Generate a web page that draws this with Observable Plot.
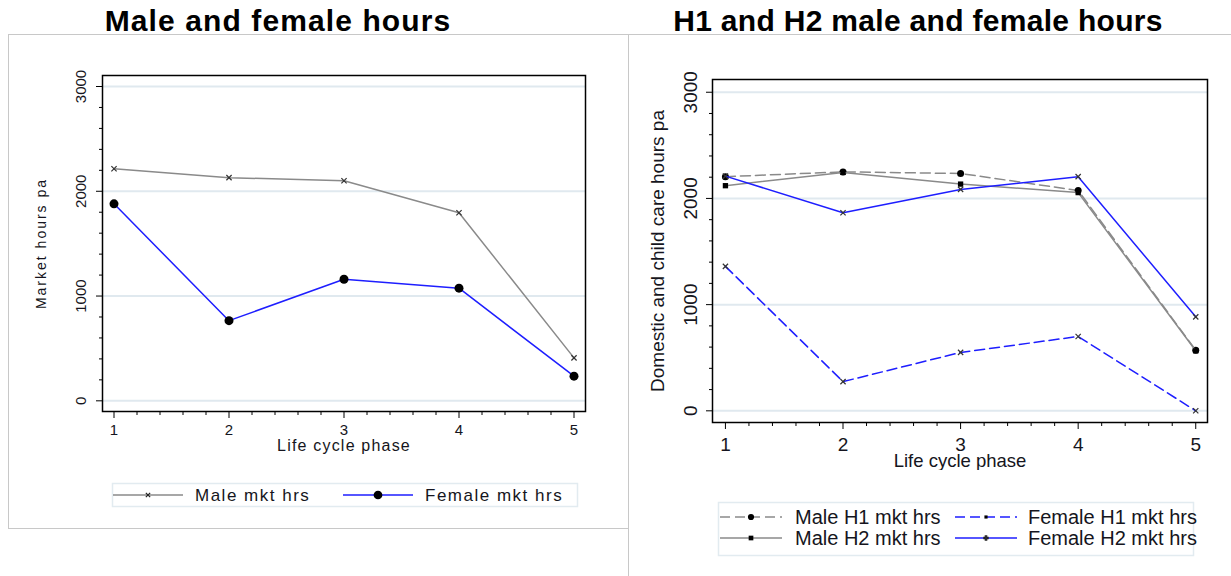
<!DOCTYPE html>
<html>
<head>
<meta charset="utf-8">
<script src="https://cdn.jsdelivr.net/npm/d3@7"></script>
<script src="https://cdn.jsdelivr.net/npm/@observablehq/plot@0.6"></script>
<style>
  body { margin: 0; background: #fff; font-family: "Liberation Sans", Arial, sans-serif; }
  #page { position: relative; width: 1231px; height: 576px; overflow: hidden; background: #fff; }
  .panel { position: absolute; border: 1px solid #c8c8c8; box-sizing: border-box; }
  .title { position: absolute; font-weight: bold; font-size: 30px; line-height: 30px; color: #000;
           white-space: nowrap; transform: translateX(-50%); }
  .chart { position: absolute; }
  .legend { position: absolute; overflow: visible; }
</style>
</head>
<body>
<div id="page">
  <div class="panel" style="left:8px; top:34px; width:621px; height:495px;"></div>
  <div class="panel" style="left:628px; top:34px; width:620px; height:560px;"></div>
  <div class="title" style="left:278px; top:6px; letter-spacing:1.1px;">Male and female hours</div>
  <div class="title" style="left:918px; top:6px; letter-spacing:0.3px;">H1 and H2 male and female hours</div>
  <div class="chart" id="left" style="left:0px; top:0px;"></div>
  <div class="chart" id="right" style="left:628px; top:0px;"></div>
  <svg class="legend" id="legendLeft" style="left:112px; top:483px;" width="466" height="24"></svg>
  <svg class="legend" id="legendRight" style="left:718px; top:502px;" width="476" height="54"></svg>
</div>
<script>
// Life-cycle phases on the x axis and the axis tick values
const phases = [1, 2, 3, 4, 5];
const xTicks = [1, 2, 3, 4, 5];
const yTicks = [0, 1000, 2000, 3000];

// Market hours per year, by sex
const maleMkt   = [2215, 2130, 2100, 1795, 410];
const femaleMkt = [1880, 765, 1160, 1075, 235];

// Domestic and child care hours per year, H1 and H2 households
const maleH1   = [2205, 2250, 2235, 2075, 570];
const maleH2   = [2120, 2245, 2135, 2055, 565];
const femaleH1 = [1360, 275, 550, 700, 0];
const femaleH2 = [2210, 1865, 2085, 2205, 885];

const GREY = "#8a8a8a";
const BLUE = "#1e1eff";
const INK = "#151520";

const rows = values => phases.map((phase, i) => ({phase, hours: values[i]}));

function lifeCycleChart(cfg) {
  const minorY = d3.range(0, 3001, 200).filter(v => v % 1000 !== 0);
  const minorX = d3.range(10, 51, 2).filter(v => v % 10 !== 0).map(v => v / 10);
  const seriesMarks = cfg.series.flatMap(s => [
    Plot.line(rows(s.values), {
      x: "phase", y: "hours", stroke: s.stroke, strokeWidth: 1.5,
      strokeDasharray: s.dash || null
    }),
    Plot.dot(rows(s.values), {
      x: "phase", y: "hours", symbol: s.symbol, r: s.r,
      fill: s.filled ? "#000" : "none", stroke: s.filled ? "none" : "#333", strokeWidth: 1.2
    })
  ]);
  return Plot.plot({
    width: cfg.width, height: cfg.height,
    marginLeft: cfg.margin[3], marginRight: cfg.margin[1],
    marginTop: cfg.margin[0], marginBottom: cfg.margin[2],
    x: {domain: cfg.xDomain},
    y: {domain: cfg.yDomain},
    style: {background: "transparent", color: INK, fontFamily: "'Liberation Sans', Arial, sans-serif"},
    marks: [
      Plot.gridY(yTicks, {stroke: "#e0e9ef", strokeOpacity: 1, strokeWidth: 2}),
      Plot.axisY(minorY, {tickSize: 3, tickFormat: () => "", label: null, stroke: "#000"}),
      Plot.axisY(yTicks, {tickSize: 6, tickFormat: () => "", label: null, stroke: "#000"}),
      Plot.text(yTicks, {y: d => d, text: d => String(d), frameAnchor: "left",
        textAnchor: "middle", lineAnchor: "middle",
        dx: -cfg.yTickOffset, rotate: -90, fontSize: cfg.tickFont, fill: INK}),
      Plot.axisX(minorX, {tickSize: 4, tickFormat: () => "", label: null, stroke: "#000"}),
      Plot.axisX(xTicks, {tickSize: 7, tickPadding: cfg.xPad, fontSize: cfg.tickFont,
        tickFormat: d => String(d), label: null, stroke: "#000", fill: INK}),
      ...seriesMarks,
      Plot.frame({stroke: "#000", strokeWidth: 1.5}),
      Plot.text([cfg.yLabel], {text: d => d, frameAnchor: "left", dx: -cfg.yLabelOffset,
        textAnchor: "middle", lineAnchor: "middle",
        rotate: -90, fontSize: cfg.yLabelFont, fill: INK}),
      Plot.text(["Life cycle phase"], {text: d => d, frameAnchor: "bottom", dy: cfg.xLabelOffset,
        textAnchor: "middle", lineAnchor: "middle",
        fontSize: cfg.xLabelFont, fill: INK})
    ]
  });
}

function spaceLetters(svg, labels, spacing) {
  d3.select(svg).selectAll("text")
    .filter(function () { return labels.includes(this.textContent); })
    .style("letter-spacing", spacing);
}

const leftSvg = lifeCycleChart({
  width: 628, height: 460, margin: [75, 43, 49, 102],
  xDomain: [0.9, 5.1], yDomain: [-102, 3105],
  tickFont: 15, yTickOffset: 21, xPad: 6,
  yLabel: "Market hours pa", yLabelOffset: 61, yLabelFont: 14,
  xLabelOffset: 34, xLabelFont: 16,
  series: [
    {values: maleMkt, stroke: GREY, symbol: "times", r: 2.5, filled: false},
    {values: femaleMkt, stroke: BLUE, symbol: "circle", r: 4.5, filled: true}
  ]
});
spaceLetters(leftSvg, ["Market hours pa"], "2px");
spaceLetters(leftSvg, ["Life cycle phase"], "1.2px");
document.getElementById("left").appendChild(leftSvg);

const rightSvg = lifeCycleChart({
  width: 603, height: 470, margin: [79, 24, 48, 84],
  xDomain: [0.89, 5.1], yDomain: [-110, 3120],
  tickFont: 19, yTickOffset: 22, xPad: 8,
  yLabel: "Domestic and child care hours pa", yLabelOffset: 55, yLabelFont: 19,
  xLabelOffset: 39, xLabelFont: 18.5,
  series: [
    {values: maleH1, stroke: GREY, dash: "10,5", symbol: "circle", r: 3.5, filled: true},
    {values: maleH2, stroke: GREY, symbol: "square", r: 3, filled: true},
    {values: femaleH1, stroke: BLUE, dash: "10,5", symbol: "times", r: 2.5, filled: false},
    {values: femaleH2, stroke: BLUE, symbol: "times", r: 2.5, filled: false}
  ]
});
document.getElementById("right").appendChild(rightSvg);

// Legends: line sample, marker and label for each series
function drawLegend(id, cfg) {
  const svg = d3.select("#" + id);
  const w = +svg.attr("width"), h = +svg.attr("height");
  svg.append("rect").attr("x", 0.5).attr("y", 0.5).attr("width", w - 1).attr("height", h - 1)
    .attr("fill", "none").attr("stroke", "#e2ebf0").attr("stroke-width", 1.5);
  for (const it of cfg.items) {
    svg.append("line").attr("x1", it.x0).attr("x2", it.x1).attr("y1", it.y).attr("y2", it.y)
      .attr("stroke", it.stroke).attr("stroke-width", 1.6)
      .attr("stroke-dasharray", it.dash || null);
    const mx = (it.x0 + it.x1) / 2;
    const sym = d3.symbol().type(it.symbol).size(it.size);
    svg.append("path").attr("d", sym()).attr("transform", `translate(${mx},${it.y})`)
      .attr("fill", it.filled ? "#000" : "none").attr("stroke", it.filled ? "none" : "#222")
      .attr("stroke-width", 1.2);
    svg.append("text").attr("x", it.tx).attr("y", it.y).attr("dy", "0.35em")
      .attr("fill", INK).attr("font-size", cfg.fontSize)
      .attr("font-family", "'Liberation Sans', Arial, sans-serif")
      .style("letter-spacing", cfg.spacing || null)
      .text(it.label);
  }
}

drawLegend("legendLeft", {
  fontSize: 17, spacing: "1.5px",
  items: [
    {label: "Male mkt hrs", x0: 1, x1: 71, y: 12, stroke: GREY, symbol: d3.symbolX, size: 14, filled: false, tx: 83},
    {label: "Female mkt hrs", x0: 231, x1: 301, y: 12, stroke: BLUE, symbol: d3.symbolCircle, size: 60, filled: true, tx: 313}
  ]
});

drawLegend("legendRight", {
  fontSize: 20,
  items: [
    {label: "Male H1 mkt hrs", x0: 2, x1: 64, y: 15, stroke: GREY, dash: "10,5", symbol: d3.symbolCircle, size: 30, filled: true, tx: 77},
    {label: "Female H1 mkt hrs", x0: 237, x1: 299, y: 15, stroke: BLUE, dash: "10,5", symbol: d3.symbolSquare, size: 10, filled: true, tx: 310},
    {label: "Male H2 mkt hrs", x0: 2, x1: 64, y: 36, stroke: GREY, symbol: d3.symbolSquare, size: 22, filled: true, tx: 77},
    {label: "Female H2 mkt hrs", x0: 237, x1: 299, y: 36, stroke: BLUE, symbol: d3.symbolCross, size: 10, filled: false, tx: 310}
  ]
});
</script>
</body>
</html>
